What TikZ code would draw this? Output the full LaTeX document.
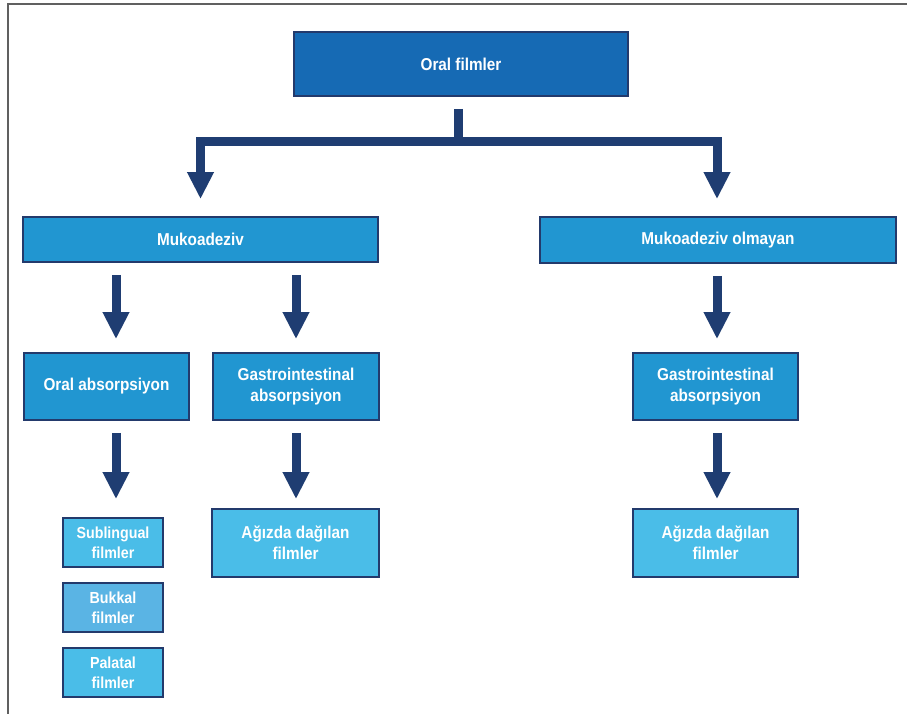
\documentclass[tikz,border=0pt]{standalone}
\usepackage{fontspec}
\setmainfont{Liberation Sans}[FakeStretch=0.89]
\usetikzlibrary{arrows.meta}
\definecolor{topblue}{RGB}{22,106,180}
\definecolor{midblue}{RGB}{33,150,209}
\definecolor{lightblue}{RGB}{74,189,232}
\definecolor{bukblue}{RGB}{90,180,228}
\definecolor{navy}{RGB}{35,58,108}
\definecolor{arrowc}{RGB}{31,61,114}
\definecolor{framegray}{RGB}{96,96,96}
\begin{document}
\begin{tikzpicture}[x=1pt,y=-1pt,
  box/.style={draw=navy,line width=1.8pt,text=white,
    font=\fontsize{17.2}{21.5}\selectfont\bfseries,align=center,inner sep=0pt},
  smallbox/.style={box,font=\fontsize{16}{20}\selectfont\bfseries},
  arr/.style={draw=arrowc,line width=9pt,line join=miter,
    -{Triangle[width=25pt,length=27pt]}},
  bar/.style={draw=arrowc,line width=9pt},
  frame/.style={draw=framegray,line width=2pt}]
\useasboundingbox (0,0) rectangle (907,714);
\draw[frame] (907,4) -- (8,4) -- (8,714);

\node[box,fill=topblue,minimum width=334pt,minimum height=64pt] (top) at (461,64) {Oral filmler};
\node[box,fill=midblue,minimum width=355pt,minimum height=45pt] (muk) at (200.5,239.5) {Mukoadeziv};
\node[box,fill=midblue,minimum width=356pt,minimum height=46pt] (mukO) at (718,240) {Mukoadeziv olmayan};
\node[box,fill=midblue,minimum width=165pt,minimum height=67pt] (oabs) at (106.5,386.5) {Oral absorpsiyon};
\node[box,fill=midblue,minimum width=166pt,minimum height=67pt] (giL) at (296,386.5) {Gastrointestinal\\absorpsiyon};
\node[box,fill=midblue,minimum width=165pt,minimum height=67pt] (giR) at (715.5,386.5) {Gastrointestinal\\absorpsiyon};
\node[smallbox,fill=lightblue,minimum width=100pt,minimum height=49pt] (sub) at (113,542.5) {Sublingual\\filmler};
\node[smallbox,fill=bukblue,minimum width=100pt,minimum height=49pt] (buk) at (113,607.5) {Bukkal\\filmler};
\node[smallbox,fill=lightblue,minimum width=100pt,minimum height=49pt] (pal) at (113,672.5) {Palatal\\filmler};
\node[box,fill=lightblue,minimum width=167pt,minimum height=68pt] (agzL) at (295.5,543) {Ağızda dağılan\\filmler};
\node[box,fill=lightblue,minimum width=165pt,minimum height=68pt] (agzR) at (715.5,543) {Ağızda dağılan\\filmler};

\coordinate (j) at (458,142);
\coordinate (xa) at (116,0);
\coordinate (xb) at (296,0);
\coordinate (xc) at (717,0);

\draw[bar] ([yshift=-12pt]top.south -| j) -- (j);
\draw[arr] (j) -| ([yshift=17pt]muk.north);
\draw[arr] (j) -| ([yshift=17pt]mukO.north -| xc);

\draw[arr] ([yshift=-12pt]muk.south -| xa) -- ([yshift=13pt]oabs.north -| xa);
\draw[arr] ([yshift=-12pt]muk.south -| xb) -- ([yshift=13pt]giL.north -| xb);
\draw[arr] ([yshift=-12pt]mukO.south -| xc) -- ([yshift=13pt]giR.north -| xc);

\draw[arr] ([yshift=-12pt]oabs.south -| xa) -- ([yshift=18pt]sub.north -| xa);
\draw[arr] ([yshift=-12pt]giL.south -| xb) -- ([yshift=9pt]agzL.north -| xb);
\draw[arr] ([yshift=-12pt]giR.south -| xc) -- ([yshift=9pt]agzR.north -| xc);
\end{tikzpicture}
\end{document}
